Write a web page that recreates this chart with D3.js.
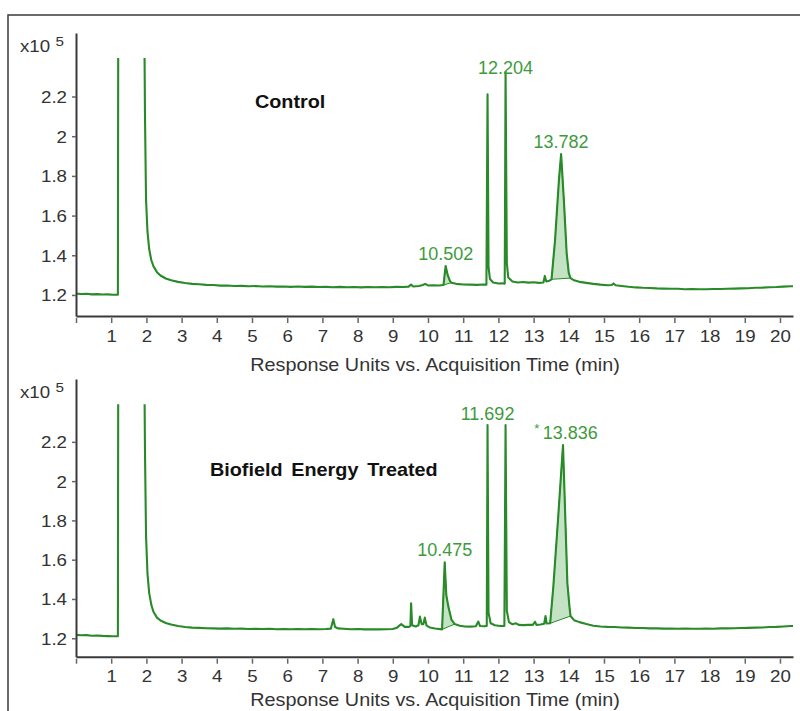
<!DOCTYPE html>
<html>
<head>
<meta charset="utf-8">
<script src="https://cdn.jsdelivr.net/npm/d3@7"></script>
<style>
  html, body { margin: 0; padding: 0; background: #fff; }
  svg { display: block; }
  text { font-family: "Liberation Sans", Arial, Helvetica, sans-serif; }
</style>
</head>
<body>
<svg id="chart" width="800" height="711"></svg>
<script>
// Chromatogram traces: [retention time (min), response (x10^5)]
const controlTrace = [
  [0.00,1.207],[0.15,1.205],[0.30,1.206],[0.45,1.203],[0.60,1.204],[0.75,1.202],[0.90,1.203],
  [1.05,1.201],[1.17,1.202],[1.19,1.201],[1.20,2.60],
  [1.94,2.60],[1.96,2.10],[1.99,1.68],[2.03,1.52],[2.08,1.43],[2.14,1.375],[2.20,1.345],
  [2.30,1.315],[2.40,1.298],[2.55,1.283],[2.70,1.274],[2.90,1.266],[3.10,1.260],[3.30,1.256],
  [3.50,1.254],[3.70,1.251],[3.90,1.250],[4.10,1.247],[4.30,1.248],[4.50,1.245],[4.70,1.246],
  [4.90,1.244],[5.10,1.245],[5.30,1.243],[5.50,1.244],[5.70,1.242],[5.90,1.243],[6.10,1.241],
  [6.30,1.243],[6.50,1.241],[6.70,1.242],[6.90,1.240],[7.10,1.241],[7.30,1.239],[7.50,1.241],
  [7.70,1.239],[7.90,1.240],[8.10,1.238],[8.30,1.240],[8.50,1.239],[8.70,1.240],[8.90,1.239],
  [9.10,1.241],[9.30,1.240],[9.45,1.242],[9.52,1.252],[9.58,1.243],[9.75,1.245],[9.85,1.250],
  [9.92,1.256],[10.00,1.248],[10.15,1.249],[10.30,1.248],[10.44,1.250],[10.502,1.346],
  [10.56,1.300],[10.62,1.272],[10.66,1.262],[10.80,1.256],[11.00,1.253],[11.20,1.252],
  [11.40,1.251],[11.55,1.253],[11.66,1.252],[11.692,2.211],[11.72,1.34],[11.76,1.28],
  [11.85,1.263],[12.00,1.258],[12.10,1.259],[12.18,1.257],[12.204,2.325],[12.24,1.36],
  [12.28,1.288],[12.40,1.268],[12.55,1.263],[12.70,1.265],[12.85,1.262],[13.00,1.264],
  [13.15,1.261],[13.28,1.263],[13.32,1.296],[13.36,1.268],[13.45,1.272],[13.51,1.279],
  [13.61,1.477],[13.72,1.779],[13.782,1.91],[13.86,1.679],[13.94,1.41],[14.00,1.31],
  [14.05,1.285],[14.15,1.274],[14.30,1.266],[14.50,1.261],[14.70,1.256],[14.90,1.252],
  [15.10,1.249],[15.22,1.250],[15.27,1.258],[15.33,1.249],[15.50,1.245],[15.70,1.241],
  [15.90,1.238],[16.10,1.236],[16.30,1.235],[16.50,1.233],[16.70,1.232],[16.90,1.231],
  [17.10,1.231],[17.30,1.229],[17.50,1.230],[17.70,1.229],[17.90,1.229],[18.10,1.230],
  [18.30,1.230],[18.50,1.231],[18.70,1.232],[18.90,1.233],[19.10,1.234],[19.30,1.236],
  [19.50,1.237],[19.70,1.239],[19.90,1.240],[20.10,1.242],[20.30,1.244],[20.37,1.244]
];

const treatedTrace = [
  [0.00,1.217],[0.15,1.215],[0.30,1.216],[0.45,1.213],[0.60,1.214],[0.75,1.212],[0.90,1.211],
  [1.05,1.210],[1.17,1.211],[1.19,1.210],[1.20,2.60],
  [1.94,2.60],[1.96,2.15],[1.99,1.72],[2.03,1.53],[2.08,1.43],[2.14,1.37],[2.20,1.335],
  [2.30,1.305],[2.40,1.290],[2.55,1.278],[2.70,1.270],[2.90,1.262],[3.10,1.257],[3.30,1.254],
  [3.50,1.253],[3.70,1.251],[3.90,1.250],[4.10,1.249],[4.30,1.250],[4.50,1.248],[4.70,1.249],
  [4.90,1.247],[5.10,1.248],[5.30,1.247],[5.50,1.248],[5.70,1.246],[5.90,1.247],[6.10,1.246],
  [6.30,1.247],[6.50,1.246],[6.70,1.247],[6.90,1.246],[7.10,1.247],[7.24,1.249],[7.31,1.297],
  [7.36,1.257],[7.45,1.250],[7.60,1.248],[7.80,1.246],[8.00,1.247],[8.20,1.245],[8.40,1.246],
  [8.60,1.245],[8.80,1.246],[9.00,1.247],[9.12,1.254],[9.24,1.272],[9.34,1.258],[9.46,1.258],
  [9.50,1.262],[9.52,1.378],[9.55,1.266],[9.65,1.260],[9.73,1.266],[9.77,1.310],[9.82,1.272],
  [9.87,1.272],[9.91,1.305],[9.96,1.264],[10.05,1.255],[10.20,1.250],[10.40,1.245],
  [10.475,1.587],[10.52,1.42],[10.58,1.36],[10.67,1.293],[10.76,1.272],[10.90,1.264],
  [11.05,1.260],[11.20,1.259],[11.36,1.261],[11.43,1.285],[11.48,1.262],[11.60,1.261],
  [11.67,1.263],[11.692,2.285],[11.72,1.33],[11.78,1.276],[11.90,1.266],[12.05,1.262],
  [12.17,1.263],[12.204,2.285],[12.24,1.34],[12.30,1.282],[12.40,1.271],[12.50,1.276],
  [12.58,1.268],[12.70,1.267],[12.85,1.268],[12.98,1.268],[13.04,1.284],[13.08,1.268],
  [13.20,1.270],[13.30,1.274],[13.34,1.313],[13.37,1.275],[13.47,1.276],[13.56,1.46],
  [13.70,1.82],[13.836,2.184],[13.90,1.82],[13.96,1.48],[14.02,1.36],[14.05,1.313],
  [14.15,1.292],[14.30,1.282],[14.50,1.272],[14.70,1.264],[14.90,1.260],[15.10,1.258],
  [15.30,1.257],[15.50,1.255],[15.70,1.254],[15.90,1.252],[16.10,1.252],[16.30,1.250],
  [16.50,1.250],[16.70,1.249],[16.90,1.249],[17.10,1.248],[17.30,1.249],[17.50,1.248],
  [17.70,1.248],[17.90,1.249],[18.10,1.248],[18.30,1.250],[18.50,1.250],[18.70,1.251],
  [18.90,1.252],[19.10,1.253],[19.30,1.254],[19.50,1.255],[19.70,1.257],[19.90,1.258],
  [20.10,1.260],[20.30,1.262],[20.37,1.262]
];

// Integrated peak windows [start, end] (min), shaded under the trace
const controlPeakAreas = [[10.44, 10.66], [13.51, 14.05]];
const treatedPeakAreas = [[10.40, 10.76], [13.47, 14.05]];

// Labelled retention times (min)
const controlPeakLabels = [10.502, 12.204, 13.782];
const treatedPeakLabels = [10.475, 11.692, 13.836];
const treatedMarked = [13.836];

// Axis ticks
const xTickValues = d3.range(0, 21);
const yTickValues = [1.2, 1.4, 1.6, 1.8, 2.0, 2.2];

const panelTitles = ["Control", "Biofield Energy Treated"];
const xAxisTitle = "Response Units vs. Acquisition Time (min)";

const TRACE = "#288a28";
const LABEL = "#3d9b3d";
const INK = "#333";

const svg = d3.select("#chart");

// outer frame (top and left edges)
svg.append("path")
  .attr("d", "M8,711 V15 H800")
  .attr("fill", "none").attr("stroke", "#3a3a3a").attr("stroke-width", 1.5);

// places a text horizontally stretched around its anchor
function placeText(sel, x, y, sx) {
  return sel.attr("transform", `translate(${x},${y}) scale(${sx},1)`);
}

const panels = [
  { trace: controlTrace, areas: controlPeakAreas, labels: controlPeakLabels, marked: [],
    title: panelTitles[0], titleX: 255, titleY: 108,
    top: 33, bottom: 316, yDomain: [1.094, 2.52], ceiling: 2.394, axisTitleY: 370.5 },
  { trace: treatedTrace, areas: treatedPeakAreas, labels: treatedPeakLabels, marked: treatedMarked,
    title: panelTitles[1], titleX: 210, titleY: 476,
    top: 379, bottom: 656.7, yDomain: [1.106, 2.52], ceiling: 2.392, axisTitleY: 706 }
];

const left = 76, right = 793;
const x = d3.scaleLinear().domain([0, 20.37]).range([left, right]);

panels.forEach((p, i) => {
  const y = d3.scaleLinear().domain(p.yDomain).range([p.bottom, p.top]);
  const g = svg.append("g");

  const clipId = "clip" + i;
  g.append("clipPath").attr("id", clipId)
    .append("rect")
    .attr("x", left).attr("y", y(p.ceiling))
    .attr("width", right - left).attr("height", p.bottom - y(p.ceiling));

  const plot = g.append("g").attr("clip-path", `url(#${clipId})`);

  // shaded peak areas: trace segment closed by a straight baseline
  p.areas.forEach(([a, b]) => {
    const pts = p.trace.filter(d => d[0] >= a - 1e-9 && d[0] <= b + 1e-9);
    plot.append("path")
      .attr("d", d3.line().x(d => x(d[0])).y(d => y(d[1]))(pts) + "Z")
      .attr("fill", "rgba(70,165,70,0.32)")
      .attr("stroke", TRACE).attr("stroke-width", 1)
      .attr("stroke-linejoin", "round");
  });

  plot.append("path")
    .datum(p.trace)
    .attr("d", d3.line().x(d => x(d[0])).y(d => y(d[1])))
    .attr("fill", "none")
    .attr("stroke", TRACE)
    .attr("stroke-width", 2.1)
    .attr("stroke-linejoin", "round");

  // axes
  const xAxis = g.append("g").attr("transform", `translate(0,${p.bottom})`)
    .call(d3.axisBottom(x).tickValues(xTickValues).tickSizeOuter(0)
      .tickFormat(d => d === 0 ? "" : d));
  xAxis.select(".domain").attr("stroke", "#3a3a3a").attr("stroke-width", 2);
  xAxis.selectAll(".tick line").attr("y1", 2).attr("y2", 7)
    .attr("stroke", "#666").attr("stroke-width", 1.5);
  xAxis.selectAll(".tick text").each(function(d) {
    const t = d3.select(this);
    t.attr("y", null).attr("dy", null).attr("fill", INK)
      .attr("font-size", 16).attr("font-family", null);
    placeText(t, 0, 25.5, 1.17);
  });

  const yAxis = g.append("g").attr("transform", `translate(${left},0)`)
    .call(d3.axisLeft(y).tickValues(yTickValues).tickSize(4).tickSizeOuter(0)
      .tickFormat(d => String(+d.toFixed(1))));
  yAxis.select(".domain").attr("stroke", "#3a3a3a").attr("stroke-width", 2);
  yAxis.selectAll(".tick line").attr("stroke", "#666").attr("stroke-width", 1.5);
  yAxis.selectAll(".tick text").each(function() {
    const t = d3.select(this);
    t.attr("x", null).attr("dy", null).attr("fill", INK)
      .attr("font-size", 16).attr("font-family", null);
    placeText(t, -9, 6, 1.17);
  });

  // exponent marker
  const ex = g.append("text").attr("fill", INK).attr("font-size", 16);
  placeText(ex, 20, p.top + 19, 1.17);
  ex.append("tspan").text("x10 ");
  ex.append("tspan").attr("font-size", 13).attr("dy", -6).text("5");

  // axis title
  const at = g.append("text").attr("fill", INK).attr("font-size", 18)
    .attr("text-anchor", "middle").text(xAxisTitle);
  placeText(at, 435, p.axisTitleY, 1.1);

  // panel title
  const pt = g.append("text").attr("fill", "#111").attr("font-size", 18)
    .attr("font-weight", "bold").attr("word-spacing", 3).text(p.title);
  placeText(pt, p.titleX, p.titleY, 1.1);

  // retention-time labels
  const ceilY = y(p.ceiling);
  p.labels.forEach(rt => {
    const apex = p.trace.find(d => Math.abs(d[0] - rt) < 1e-9);
    const ly = Math.max(y(apex[1]) - 6, ceilY + 16);
    const marked = p.marked.includes(rt);
    const lt = g.append("text").attr("fill", LABEL).attr("font-size", 18)
      .attr("text-anchor", "middle")
      .attr("x", x(rt) + (marked ? 3 : 0)).attr("y", ly);
    if (marked) {
      lt.append("tspan").attr("font-size", 13).attr("dy", -6).text("*");
      lt.append("tspan").attr("dy", 6).text("\u2009" + rt.toFixed(3));
    } else {
      lt.text(rt.toFixed(3));
    }
  });
});
</script>
</body>
</html>
